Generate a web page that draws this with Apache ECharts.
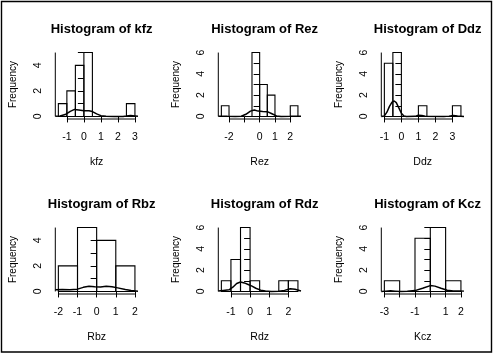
<!DOCTYPE html>
<html>
<head>
<meta charset="utf-8">
<script src="https://cdn.jsdelivr.net/npm/echarts@6/dist/echarts.min.js"></script>
<style>
html,body{margin:0;padding:0;background:#fff;}
#main{width:493px;height:356px;}
</style>
</head>
<body>
<div id="main"></div>
<script>
// histogram breaks / counts
var kfzBreaks = [-1.5,-1,-0.5,0,0.5,1,1.5,2,2.5,3];
var kfzCounts = [1,2,4,5,0,0,0,0,1];
var rezBreaks = [-2.5,-2,-1.5,-1,-0.5,0,0.5,1,1.5,2,2.5];
var rezCounts = [1,0,0,0,6,3,2,0,0,1];
var ddzBreaks = [-1,-0.5,0,0.5,1,1.5,2,2.5,3,3.5];
var ddzCounts = [5,6,0,0,1,0,0,0,1];
var rbzBreaks = [-2,-1,0,1,2];
var rbzCounts = [2,5,4,2];
var rdzBreaks = [-1.5,-1,-0.5,0,0.5,1,1.5,2,2.5];
var rdzCounts = [1,3,6,1,0,0,1,1];
var kczBreaks = [-3,-2,-1,0,1,2];
var kczCounts = [1,0,5,6,1];

// density curves (x, density)
var kfzDensity = [[-1.68,0.01],[-1.4,0.04],[-1.1,0.15],[-0.8,0.4],[-0.55,0.55],[-0.3,0.5],[0,0.44],[0.3,0.44],[0.5,0.38],[0.75,0.2],[1.0,0.06],[1.3,0.01],[1.8,0],[2.3,0],[2.5,0.03],[2.75,0.07],[3.0,0.04],[3.18,0.01]];
var rezDensity = [[-2.7,0.01],[-2.4,0.03],[-2.1,0.01],[-1.6,0],[-1.2,0.02],[-0.9,0.2],[-0.6,0.5],[-0.35,0.6],[-0.1,0.5],[0.2,0.47],[0.5,0.45],[0.8,0.25],[1.1,0.05],[1.4,0],[2.0,0.01],[2.3,0.03],[2.7,0.01]];
var ddzDensity = [[-1.18,0],[-1.0,0.05],[-0.85,0.4],[-0.7,0.95],[-0.55,1.35],[-0.42,1.45],[-0.3,1.3],[-0.15,0.8],[0,0.3],[0.15,0.05],[0.3,0],[0.8,0.01],[1.0,0.12],[1.2,0.1],[1.4,0.01],[2.5,0],[2.8,0.03],[3.05,0.1],[3.3,0.04],[3.68,0]];
var rbzDensity = [[-2.16,0.14],[-1.8,0.15],[-1.4,0.14],[-1.0,0.18],[-0.7,0.32],[-0.4,0.4],[-0.1,0.37],[0.2,0.35],[0.5,0.4],[0.8,0.36],[1.1,0.28],[1.5,0.15],[1.8,0.07],[2.16,0.02]];
var rdzDensity = [[-1.66,0.05],[-1.4,0.1],[-1.1,0.15],[-0.9,0.4],[-0.7,0.75],[-0.5,0.88],[-0.3,0.8],[-0.1,0.65],[0.1,0.5],[0.3,0.3],[0.55,0.12],[0.8,0.04],[1.1,0],[1.5,0.01],[1.8,0.1],[2.1,0.25],[2.35,0.2],[2.66,0.05]];
var kczDensity = [[-3.2,0],[-2.9,0.03],[-2.6,0.06],[-2.3,0.03],[-2.0,0],[-1.5,0.01],[-1.0,0.08],[-0.5,0.3],[0,0.55],[0.3,0.5],[0.7,0.3],[1.1,0.12],[1.5,0.05],[1.9,0.04],[2.2,0.03]];

// axis ticks and the labels R kept
var kfzTicks = [-1,0,1,2,3],    kfzLabels = [-1,0,1,2,3];
var rezTicks = [-2,-1,0,1,2],   rezLabels = [-2,0,1,2];
var ddzTicks = [-1,0,1,2,3],    ddzLabels = [-1,0,1,2,3];
var rbzTicks = [-2,-1,0,1,2],   rbzLabels = [-2,-1,0,1,2];
var rdzTicks = [-1,0,1,2],      rdzLabels = [-1,0,1,2];
var kczTicks = [-3,-2,-1,0,1,2], kczLabels = [-3,-1,1,2];
var yTicks5 = [0,1,2,3,4,5], yLabels5 = [0,2,4];
var yTicks6 = [0,1,2,3,4,5,6], yLabels6 = [0,2,4,6];

var panels = [
  {name:'kfz', breaks:kfzBreaks, counts:kfzCounts, dens:kfzDensity, xt:kfzTicks, xl:kfzLabels, yt:yTicks5, yl:yLabels5},
  {name:'Rez', breaks:rezBreaks, counts:rezCounts, dens:rezDensity, xt:rezTicks, xl:rezLabels, yt:yTicks6, yl:yLabels6},
  {name:'Ddz', breaks:ddzBreaks, counts:ddzCounts, dens:ddzDensity, xt:ddzTicks, xl:ddzLabels, yt:yTicks6, yl:yLabels6},
  {name:'Rbz', breaks:rbzBreaks, counts:rbzCounts, dens:rbzDensity, xt:rbzTicks, xl:rbzLabels, yt:yTicks5, yl:yLabels5},
  {name:'Rdz', breaks:rdzBreaks, counts:rdzCounts, dens:rdzDensity, xt:rdzTicks, xl:rdzLabels, yt:yTicks6, yl:yLabels6},
  {name:'Kcz', breaks:kczBreaks, counts:kczCounts, dens:kczDensity, xt:kczTicks, xl:kczLabels, yt:yTicks6, yl:yLabels6}
];

var FONT = 'Liberation Sans, Arial, sans-serif';
var plotW = 82.7, plotH = 69;

function barItem(params, api){
  var p0 = api.coord([api.value(0), 0]);
  var p1 = api.coord([api.value(1), api.value(2)]);
  return {
    type: 'rect',
    shape: {x: p0[0], y: p1[1], width: p1[0]-p0[0], height: p0[1]-p1[1]},
    style: {fill: 'none', stroke: '#000', lineWidth: 1.1}
  };
}

var grids = [], xAxes = [], yAxes = [], series = [], titles = [];
panels.forEach(function(p, i){
  var col = i % 3, row = Math.floor(i / 3);
  var left = 55.3 + 163*col, top = 50 + 175*row;
  var b0 = p.breaks[0], b1 = p.breaks[p.breaks.length-1];
  var xMin = b0 - 0.04*(b1-b0), xMax = b1 + 0.04*(b1-b0);
  var yMax0 = p.yt[p.yt.length-1];
  var cMax = Math.max.apply(null, p.counts);
  var yMin = -0.04*cMax, yMax = cMax*1.04;

  grids.push({left:left, top:top, width:plotW, height:plotH, outerBoundsMode:'none'});
  titles.push({
    text: 'Histogram of ' + p.name,
    left: left + plotW/2, top: top - 32, textAlign: 'center',
    textStyle: {fontFamily: FONT, fontSize: 13, fontWeight: 'bold', color: '#000'}
  });
  xAxes.push({
    type:'value', gridIndex:i, min:xMin, max:xMax,
    axisLine:{show:false}, splitLine:{show:false},
    axisTick:{show:true, customValues:p.xt, length:6, lineStyle:{color:'#000', width:1}},
    axisLabel:{customValues:p.xl, margin:13, color:'#000', fontFamily:FONT, fontSize:10.5},
    name:p.name, nameLocation:'middle', nameGap:38,
    nameTextStyle:{fontFamily:FONT, fontSize:10.5, color:'#000'}
  });
  yAxes.push({
    type:'value', gridIndex:i, min:yMin, max:yMax,
    axisLine:{show:false}, splitLine:{show:false},
    axisTick:{show:true, customValues:p.yt, length:6, lineStyle:{color:'#000', width:1}},
    axisLabel:{customValues:p.yl, rotate:90, margin:12, color:'#000', fontFamily:FONT, fontSize:10.5},
    name:'Frequency', nameLocation:'middle', nameGap:37,
    nameTextStyle:{fontFamily:FONT, fontSize:10, color:'#000'}
  });

  var bars = [];
  for (var k = 0; k < p.counts.length; k++) bars.push([p.breaks[k], p.breaks[k+1], p.counts[k]]);
  series.push({
    type:'custom', xAxisIndex:i, yAxisIndex:i, data:bars,
    encode:{x:[0,1], y:2}, renderItem:barItem, silent:true, clip:false
  });
  series.push({
    type:'line', xAxisIndex:i, yAxisIndex:i, data:p.dens, symbol:'none',
    lineStyle:{color:'#000', width:1.5}, silent:true, z:3
  });
  // R style axis lines: only from first to last tick
  series.push({
    type:'line', xAxisIndex:i, yAxisIndex:i, symbol:'none', clip:false, silent:true,
    data:[[p.xt[0], yMin], [p.xt[p.xt.length-1], yMin]],
    lineStyle:{color:'#000', width:1}
  });
  series.push({
    type:'line', xAxisIndex:i, yAxisIndex:i, symbol:'none', clip:false, silent:true,
    data:[[xMin, 0], [xMin, yMax0]],
    lineStyle:{color:'#000', width:1}
  });
});

var chart = echarts.init(document.getElementById('main'), null, {renderer:'canvas'});
chart.setOption({
  backgroundColor:'#fff',
  animation:false,
  title:titles,
  grid:grids,
  xAxis:xAxes,
  yAxis:yAxes,
  series:series,
  graphic:[{
    type:'rect', shape:{x:1.5, y:1.5, width:490, height:350.5},
    style:{fill:'none', stroke:'#000', lineWidth:1.4}, silent:true
  }]
});
</script>
</body>
</html>
